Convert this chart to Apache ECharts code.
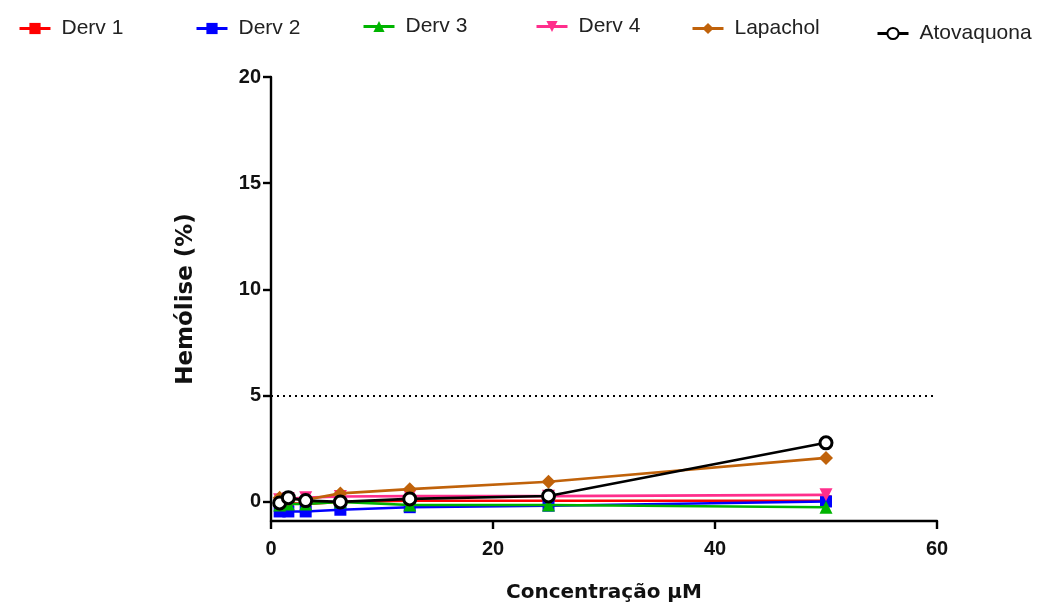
<!DOCTYPE html>
<html><head><meta charset="utf-8">
<script src="https://cdn.jsdelivr.net/npm/echarts@6/dist/echarts.min.js"></script>
<style>html,body{margin:0;padding:0;background:#fff}#c{width:1042px;height:603px}</style>
</head><body><div id="c"></div>
<script>
const concentrations = [0.78, 1.5625, 3.125, 6.25, 12.5, 25, 50];
const seriesNames = ['Derv 1', 'Derv 2', 'Derv 3', 'Derv 4', 'Lapachol', 'Atovaquona'];
const derv1 = [-0.1, -0.05, -0.1, 0.0, 0.05, 0.05, 0.05];
const derv2 = [-0.45, -0.45, -0.45, -0.37, -0.25, -0.18, 0.02];
const derv3 = [-0.15, -0.1, -0.1, 0.0, -0.15, -0.15, -0.25];
const derv4 = [0.1, 0.15, 0.2, 0.25, 0.27, 0.27, 0.33];
const lapachol = [0.2, 0.15, 0.1, 0.4, 0.6, 0.95, 2.07];
const atovaquona = [-0.05, 0.2, 0.06, 0.0, 0.14, 0.28, 2.78];
const xTicks = [0, 20, 40, 60];
const yTicks = [0, 5, 10, 15, 20];
const threshold = 5;

const colors = ['#ff0000', '#0000ff', '#00b400', '#ff2e8c', '#c0620a', '#000000'];
const symbols = ['rect', 'rect', 'triangle', 'path://M0,0 L10,0 L5,10 Z', 'diamond', 'circle'];
const sizes = [11, 12, 13, 13, 14, 12];
const allData = [derv1, derv2, derv3, derv4, lapachol, atovaquona];
const legendLeft = [13, 190, 357, 530, 686, 871];
const legendTop = [13, 13, 11, 11, 13, 18];

const series = seriesNames.map((n, i) => ({
  name: n,
  type: 'line',
  data: concentrations.map((c, j) => [c, allData[i][j]]),
  symbol: symbols[i],
  symbolSize: sizes[i],
  showSymbol: true,
  z: 2 + i,
  lineStyle: { color: colors[i], width: 2.6 },
  itemStyle: i === 5 ? { color: '#fff', borderColor: '#000', borderWidth: 3 } : { color: colors[i] },
  emphasis: { disabled: true },
  animation: false
}));
series[5].markLine = {
  silent: true, symbol: 'none', label: { show: false },
  lineStyle: { color: '#000', type: [2, 4], width: 2 },
  data: [[{ coord: [0, threshold] }, { coord: [60, threshold] }]]
};

const legends = seriesNames.map((n, i) => ({
  data: [n], left: legendLeft[i], top: legendTop[i], itemWidth: 31, itemHeight: 14, itemGap: 14,
  lineStyle: { width: 3 },
  textStyle: { fontFamily: 'Liberation Sans, Arial', fontSize: 21, color: '#222', padding: [0, 0, 0, 6] }
}));

const chart = echarts.init(document.getElementById('c'));
chart.setOption({
  animation: false,
  legend: legends,
  grid: { left: 271, right: 105, top: 77, bottom: 82, outerBoundsMode: 'none', containLabel: false },
  xAxis: {
    type: 'value', min: 0, max: 60, interval: 20,
    name: 'Concentração μM', nameLocation: 'middle', nameGap: 62,
    nameTextStyle: { fontFamily: 'DejaVu Sans, Liberation Sans', fontWeight: 'bold', fontSize: 20, color: '#111' },
    axisLine: { onZero: false, lineStyle: { color: '#000', width: 2.4 } },
    axisTick: { show: true, length: 8, lineStyle: { color: '#000', width: 2.4 }, customValues: xTicks },
    axisLabel: { customValues: xTicks, margin: 18, fontFamily: 'Liberation Sans, Arial', fontWeight: 'bold', fontSize: 20, color: '#111' },
    splitLine: { show: false }
  },
  yAxis: {
    type: 'value', min: -0.9, max: 20,
    name: 'Hemólise (%)', nameLocation: 'middle', nameGap: 73, nameRotate: 90,
    nameTextStyle: { fontFamily: 'DejaVu Sans, Liberation Sans', fontWeight: 'bold', fontSize: 23, color: '#111' },
    axisLine: { show: true, onZero: false, lineStyle: { color: '#000', width: 2.4 } },
    axisTick: { show: true, length: 8, lineStyle: { color: '#000', width: 2.4 }, customValues: yTicks },
    axisLabel: { customValues: yTicks, margin: 10, fontFamily: 'Liberation Sans, Arial', fontWeight: 'bold', fontSize: 20, color: '#111' },
    splitLine: { show: false }
  },
  series: series
});
</script></body></html>
